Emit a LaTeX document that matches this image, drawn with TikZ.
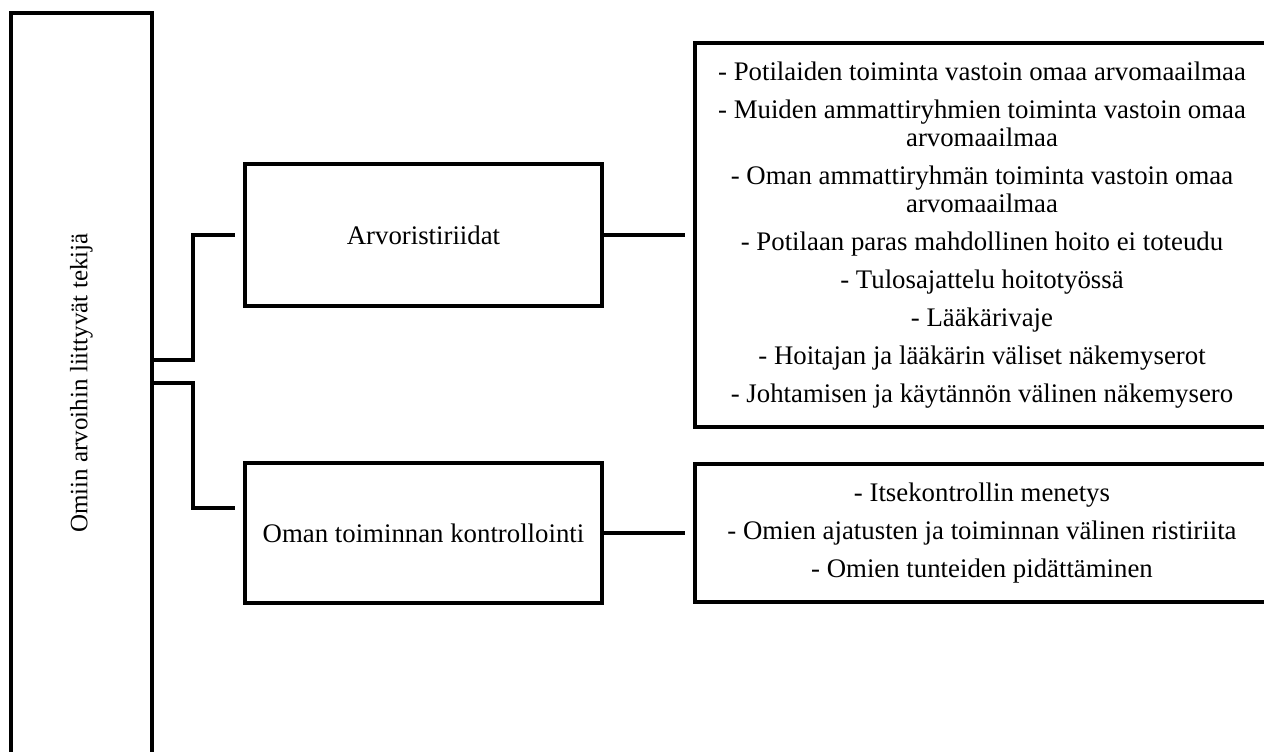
\documentclass[tikz,border=0pt]{standalone}
\usepackage{fontspec}
\setmainfont{Liberation Serif}
\begin{document}
\begin{tikzpicture}[x=0.5pt,y=-0.5pt,
  line width=1.6pt,
  box/.style={draw,line width=1.6pt,inner sep=0pt,outer sep=0pt,align=center,
    font=\fontsize{13.4}{14}\selectfont},
  txt/.style={inner sep=0pt,align=center,font=\fontsize{12.5}{14}\selectfont},
  link/.style={line width=1.6pt,line join=miter}]
\useasboundingbox (0,0) rectangle (1264,751);
\clip (0,0) rectangle (1264,751);

% main category (runs past the lower edge)
\node[box,minimum width=70.5pt,minimum height=373pt] (factor) at (81.5,386) {};
\node[txt,rotate=90] (factortext) at (81.5,383) {Omiin arvoihin liittyvät tekijä};

% subcategories
\node[box,minimum width=178.5pt,minimum height=71pt] (arvo) at (423.5,235) {Arvoristiriidat};
\node[box,minimum width=178.5pt,minimum height=70pt] (oman) at (423.5,533) {Oman toiminnan kontrollointi};

% lists of expressions
\node[box,minimum width=287pt,minimum height=192pt] (list1) at (982,235) {%
  - Potilaiden toiminta vastoin omaa arvomaailmaa\\[5pt]
  - Muiden ammattiryhmien toiminta vastoin omaa\\ arvomaailmaa\\[5pt]
  - Oman ammattiryhmän toiminta vastoin omaa\\ arvomaailmaa\\[5pt]
  - Potilaan paras mahdollinen hoito ei toteudu\\[5pt]
  - Tulosajattelu hoitotyössä\\[5pt]
  - Lääkärivaje\\[5pt]
  - Hoitajan ja lääkärin väliset näkemyserot\\[5pt]
  - Johtamisen ja käytännön välinen näkemysero};
\node[box,minimum width=287pt,minimum height=69pt] (list2) at (982,533) {%
  - Itsekontrollin menetys\\[5pt]
  - Omien ajatusten ja toiminnan välinen ristiriita\\[5pt]
  - Omien tunteiden pidättäminen};

% elbow connectors from the main category
\coordinate (b1) at (193,360);
\coordinate (b2) at (193,383);
\coordinate (t2) at (235,508);
\draw[link] (b1 -| factor.east) -- (b1) |- ([xshift=-5pt]arvo.west);
\draw[link] (b2 -| factor.east) -- (b2) |- (t2);

% subcategory to list connectors
\draw[link] (arvo.east) -- ([xshift=-5pt]list1.west);
\draw[link] (oman.east) -- ([xshift=-5pt]list2.west);
\end{tikzpicture}
\end{document}
